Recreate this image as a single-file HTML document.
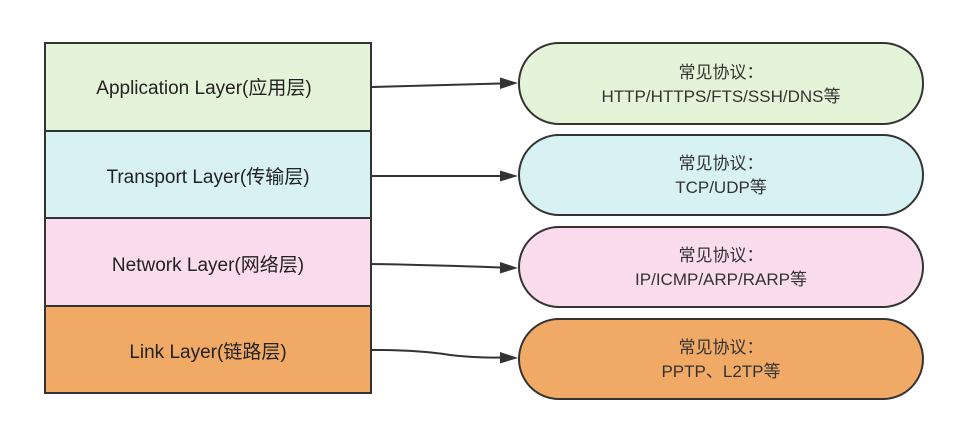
<!DOCTYPE html>
<html><head><meta charset="utf-8"><style>
html,body{margin:0;padding:0;background:#fff;}
</style></head><body>
<svg width="974" height="432" viewBox="0 0 974 432" xmlns="http://www.w3.org/2000/svg" style="display:block">
<defs><marker id="a" markerWidth="10" markerHeight="10" refX="9" refY="5" orient="auto" markerUnits="userSpaceOnUse"><path d="M0,0 L16,5 L0,10 Z" fill="#333" transform="scale(0.6,1)"/></marker></defs>
<g stroke="#333" stroke-width="2">
<rect x="45" y="43" width="326" height="88" fill="#e4f4d8"/>
<rect x="45" y="131" width="326" height="87" fill="#d8f2f4"/>
<rect x="45" y="218" width="326" height="88" fill="#fadcec"/>
<rect x="45" y="306" width="326" height="87" fill="#f0aa66"/>
<rect x="519" y="43" width="404" height="81" rx="40" fill="#e4f4d8"/>
<rect x="519" y="135" width="404" height="80" rx="40" fill="#d8f2f4"/>
<rect x="519" y="227" width="404" height="80" rx="40" fill="#fadcec"/>
<rect x="519" y="319" width="404" height="80" rx="40" fill="#f0aa66"/>
</g>
<g stroke="#333" stroke-width="2" fill="none">
<path d="M372,87 L500,83.5"/>
<path d="M372,176 L500,176"/>
<path d="M372,264 Q430,265 500,267.5"/>
<path d="M372,350 Q420,350 450,355 Q475,358 500,357.5"/>
</g>
<g fill="#333">
<path d="M500,77.5 L518,83 L500,89 Z"/>
<path d="M500,170.5 L518,176 L500,181.5 Z"/>
<path d="M500,262 L518,268 L500,273.5 Z"/>
<path d="M500,352 L518,358 L500,363.5 Z"/>
</g>
<g font-family="Liberation Sans, 'Noto Sans CJK SC', sans-serif" font-size="19" fill="#222" text-anchor="middle">
<text x="204" y="94">Application Layer(应用层)</text>
<text x="208" y="183">Transport Layer(传输层)</text>
<text x="208" y="271">Network Layer(网络层)</text>
<text x="208" y="358">Link Layer(链路层)</text>
</g>
<g font-family="Liberation Sans, 'Noto Sans CJK SC', sans-serif" font-size="17" fill="#333" text-anchor="middle">
<text x="721" y="78">常见协议：</text>
<text x="721" y="102">HTTP/HTTPS/FTS/SSH/DNS等</text>
<text x="721" y="169">常见协议：</text>
<text x="721" y="193">TCP/UDP等</text>
<text x="721" y="261">常见协议：</text>
<text x="721" y="285">IP/ICMP/ARP/RARP等</text>
<text x="721" y="353">常见协议：</text>
<text x="721" y="377">PPTP、L2TP等</text>
</g>
</svg>
</body></html>
